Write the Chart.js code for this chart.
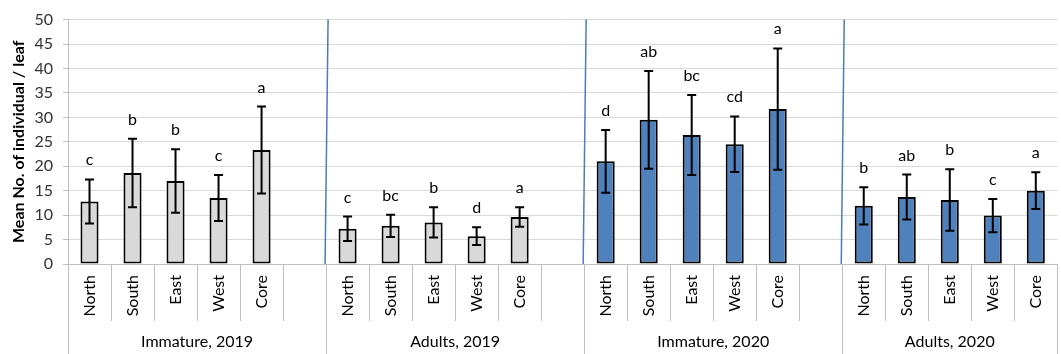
<!DOCTYPE html>
<html><head><meta charset="utf-8">
<script src="https://cdn.jsdelivr.net/npm/chart.js@4.4.1/dist/chart.umd.min.js"></script>
<style>html,body{margin:0;padding:0;overflow:hidden;background:#fff}</style>
</head><body>
<canvas id="c" width="1066" height="354"></canvas>
<script>
const groups = ['Immature, 2019', 'Adults, 2019', 'Immature, 2020', 'Adults, 2020'];
const sites = ['North', 'South', 'East', 'West', 'Core'];
const yTickValues = [0, 5, 10, 15, 20, 25, 30, 35, 40, 45, 50];

const meanImm2019 = [12.8, 18.6, 17.0, 13.5, 23.3];
const errImm2019  = [4.5, 7.0, 6.5, 4.7, 8.9];
const letImm2019  = ['c', 'b', 'b', 'c', 'a'];

const meanAd2019 = [7.2, 7.8, 8.5, 5.7, 9.6];
const errAd2019  = [2.5, 2.3, 3.1, 1.8, 2.0];
const letAd2019  = ['c', 'bc', 'b', 'd', 'a'];

const meanImm2020 = [21.0, 29.5, 26.4, 24.5, 31.7];
const errImm2020  = [6.4, 10.0, 8.2, 5.7, 12.4];
const letImm2020  = ['d', 'ab', 'bc', 'cd', 'a'];

const meanAd2020 = [11.9, 13.7, 13.1, 9.9, 15.0];
const errAd2020  = [3.8, 4.6, 6.3, 3.4, 3.75];
const letAd2020  = ['b', 'ab', 'b', 'c', 'a'];

const GRAY = '#d9d9d9', BLUE = '#4f81bd';
const groupMeans = [meanImm2019, meanAd2019, meanImm2020, meanAd2020];
const groupErrs = [errImm2019, errAd2019, errImm2020, errAd2020];
const groupLetters = [letImm2019, letAd2019, letImm2020, letAd2020];
const groupColors = [GRAY, GRAY, BLUE, BLUE];

// build flat arrays (each group followed by an empty slot except the last)
const labels = [], values = [], errs = [], letters = [], colors = [], groupStart = [];
groups.forEach((g, gi) => {
  groupStart.push(labels.length);
  sites.forEach((s, si) => {
    labels.push(s); values.push(groupMeans[gi][si]); errs.push(groupErrs[gi][si]);
    letters.push(groupLetters[gi][si]); colors.push(groupColors[gi]);
  });
  if (gi < groups.length - 1) {
    labels.push(''); values.push(null); errs.push(null); letters.push(''); colors.push(GRAY);
  }
});
const nSlots = labels.length;

const FONT = 'Lato, "Open Sans", sans-serif';

const deco = {
  id: 'deco',
  afterDatasetsDraw(chart) {
    const {ctx, chartArea, scales: {x, y}} = chart;
    const meta = chart.getDatasetMeta(0);
    const w = x.getPixelForValue(1) - x.getPixelForValue(0);
    const bnd = k => x.getPixelForValue(0) + (k - 0.5) * w;
    ctx.save();
    // blue group dividers
    ctx.strokeStyle = '#4a7ebb'; ctx.lineWidth = 1.5;
    groupStart.slice(1).forEach(k => {
      const b = bnd(k);
      ctx.beginPath(); ctx.moveTo(b + 2, chartArea.top); ctx.lineTo(b - 1, chartArea.bottom); ctx.stroke();
    });
    // error bars and letters
    ctx.strokeStyle = '#000'; ctx.lineWidth = 2; ctx.fillStyle = '#000';
    ctx.font = '16px ' + FONT; ctx.textAlign = 'center'; ctx.textBaseline = 'alphabetic';
    values.forEach((v, i) => {
      if (v == null) return;
      const bx = meta.data[i].x;
      const yt = y.getPixelForValue(v + errs[i]);
      const yb = y.getPixelForValue(v - errs[i]);
      ctx.beginPath();
      ctx.moveTo(bx, yt); ctx.lineTo(bx, yb);
      ctx.moveTo(bx - 4.5, yt); ctx.lineTo(bx + 4.5, yt);
      ctx.moveTo(bx - 4.5, yb); ctx.lineTo(bx + 4.5, yb);
      ctx.stroke();
      ctx.fillText(letters[i], bx, yt - 14);
    });
    ctx.restore();
  },
  afterDraw(chart) {
    const {ctx, chartArea, scales: {x}} = chart;
    const w = x.getPixelForValue(1) - x.getPixelForValue(0);
    const bnd = k => x.getPixelForValue(0) + (k - 0.5) * w;
    const H = chart.height;
    ctx.save();
    ctx.strokeStyle = '#bfbfbf'; ctx.lineWidth = 1;
    for (let k = 0; k <= nSlots; k++) {
      const bx = Math.round(bnd(k)) + 0.5;
      const isGroup = groupStart.includes(k) || k === nSlots;
      ctx.beginPath(); ctx.moveTo(bx, chartArea.bottom); ctx.lineTo(bx, isGroup ? H : chartArea.bottom + 57); ctx.stroke();
    }
    ctx.fillStyle = '#000'; ctx.font = '16px ' + FONT; ctx.textAlign = 'center'; ctx.textBaseline = 'middle';
    groups.forEach((g, gi) => {
      const s = groupStart[gi];
      const e = gi < groups.length - 1 ? groupStart[gi + 1] : nSlots;
      ctx.fillText(g, (bnd(s) + bnd(e)) / 2, 342);
    });
    ctx.restore();
  }
};

new Chart(document.getElementById('c'), {
  type: 'bar',
  data: {
    labels,
    datasets: [{
      data: values, backgroundColor: colors, borderColor: '#000', borderWidth: 2,
      borderSkipped: false, barPercentage: 0.42, categoryPercentage: 1
    }]
  },
  options: {
    responsive: false, animation: false,
    layout: {padding: {top: 18, right: 0, left: 0, bottom: 0}},
    plugins: {legend: {display: false}, tooltip: {enabled: false}},
    scales: {
      x: {
        grid: {display: false, drawTicks: false},
        border: {color: '#bfbfbf'},
        ticks: {autoSkip: false, minRotation: 90, maxRotation: 90, padding: 11,
                font: {family: FONT, size: 16}, color: '#000'},
        afterFit(s) { s.height = 90; }
      },
      y: {
        min: 0, max: 50,
        afterBuildTicks(s) { s.ticks = yTickValues.map(v => ({value: v})); },
        ticks: {padding: 10, font: {family: FONT, size: 16}, color: '#333'},
        grid: {color: '#d9d9d9', tickLength: 5, tickColor: '#bfbfbf'},
        border: {color: '#bfbfbf'},
        title: {display: true, text: 'Mean No. of individual / leaf', color: '#000',
                font: {family: FONT, size: 16, weight: 'bold'}, padding: {top: 9, bottom: 0}},
        afterFit(s) { s.width = 68; }
      }
    }
  },
  plugins: [deco]
});
</script>
</body></html>
